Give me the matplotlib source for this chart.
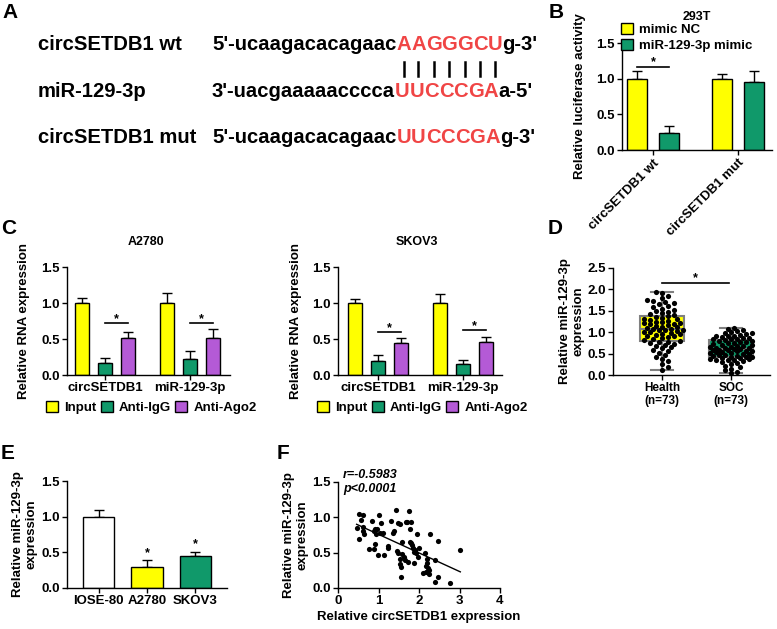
import numpy as np
import matplotlib
matplotlib.use('Agg')
import matplotlib.pyplot as plt

plt.rcParams['font.family'] = ['Liberation Sans', 'DejaVu Sans']
plt.rcParams['font.weight'] = 'bold'
plt.rcParams['axes.labelweight'] = 'bold'

YELLOW = '#FFFF00'
GREEN = '#10996A'
PURPLE = '#B45AD6'
RED = '#F04545'
GREY = '#808080'

# ---- panel A: binding site
seq_labels = ['circSETDB1 wt', 'miR-129-3p', 'circSETDB1 mut']
seq_left = ["5'-ucaagacacagaac", "3'-uacgaaaaacccca", "5'-ucaagacacagaac"]
seq_site = ['AAGGGCU', 'UUCCCGA', 'UUCCCGA']
seq_right = ["g-3'", "a-5'", "g-3'"]

# ---- panel B: luciferase
b_groups = ['circSETDB1 wt', 'circSETDB1 mut']
b_series = ['mimic NC', 'miR-129-3p mimic']
b_mean = [[1.00, 0.24], [1.00, 0.96]]
b_err = [[0.11, 0.09], [0.07, 0.15]]

# ---- panel C: RIP
c_groups = ['circSETDB1', 'miR-129-3p']
c_series = ['Input', 'Anti-IgG', 'Anti-Ago2']
c_a2780_mean = [[1.00, 0.16, 0.51], [1.00, 0.22, 0.52]]
c_a2780_err = [[0.07, 0.07, 0.09], [0.14, 0.12, 0.12]]
c_skov3_mean = [[1.00, 0.20, 0.44], [1.00, 0.15, 0.46]]
c_skov3_err = [[0.06, 0.08, 0.07], [0.12, 0.06, 0.07]]
c_sig_a2780 = [0.72, 0.72]
c_sig_skov3 = [0.60, 0.63]

# ---- panel D: tissue expression
d_groups = ['Health\n(n=73)', 'SOC\n(n=73)']
health = [0.12, 0.18, 0.25, 0.32, 0.38, 0.42, 0.47, 0.52, 0.55, 0.58, 0.62, 0.65,
          0.68, 0.70, 0.73, 0.75, 0.77, 0.78, 0.80,
          0.82, 0.84, 0.86, 0.88, 0.90, 0.91, 0.93, 0.95, 0.96, 0.98, 1.00, 1.01,
          1.02, 1.04, 1.05, 1.06, 1.07, 1.08,
          1.10, 1.12, 1.13, 1.15, 1.17, 1.18, 1.20, 1.21, 1.22, 1.24, 1.25, 1.27,
          1.29, 1.30, 1.32, 1.34, 1.36, 1.38,
          1.40, 1.42, 1.45, 1.48, 1.50, 1.52, 1.55, 1.58, 1.62, 1.65, 1.68, 1.70,
          1.72, 1.75, 1.80, 1.85, 1.92, 1.95]
soc = [0.05, 0.08, 0.12, 0.15, 0.18, 0.22, 0.25, 0.28, 0.30, 0.32, 0.34, 0.35,
       0.36, 0.37, 0.38, 0.39, 0.40, 0.41, 0.42,
       0.43, 0.44, 0.45, 0.46, 0.47, 0.48, 0.50, 0.51, 0.52, 0.53, 0.54, 0.55,
       0.56, 0.57, 0.58, 0.59, 0.59, 0.60,
       0.61, 0.62, 0.63, 0.64, 0.65, 0.66, 0.67, 0.68, 0.70, 0.71, 0.72, 0.74,
       0.75, 0.76, 0.78, 0.79, 0.80, 0.82,
       0.83, 0.84, 0.85, 0.86, 0.87, 0.88, 0.90, 0.91, 0.92, 0.94, 0.95, 0.97,
       0.98, 1.00, 1.02, 1.05, 1.08, 1.10]

# ---- panel E: cell lines
e_cells = ['IOSE-80', 'A2780', 'SKOV3']
e_mean = [1.00, 0.30, 0.45]
e_err = [0.10, 0.09, 0.06]

# ---- panel F: correlation
f_circ = [0.51, 0.62, 0.46, 0.58, 0.51, 0.62, 0.63, 0.61, 0.83, 0.88, 0.92, 0.96,
          0.93, 1.02, 1.04, 1.07, 0.77, 0.89, 0.91, 0.99, 1.14, 1.23, 1.24, 1.32,
          1.38, 1.42, 1.48, 1.52, 1.37, 1.46, 1.49, 1.57, 1.63, 1.52, 1.52, 1.55,
          1.55, 1.65, 1.72, 1.71, 1.76, 1.80, 1.68, 1.78, 1.78, 1.80, 1.83, 1.85,
          1.89, 1.87, 1.93, 1.96, 1.99, 1.97, 1.87, 2.15, 2.20, 2.28, 2.18, 2.22,
          2.25, 2.11, 2.18, 2.24, 2.40, 2.48, 2.48, 2.40, 2.76, 3.02, 2.20, 1.59,
          1.10]
f_mir = [1.05, 1.03, 0.85, 0.96, 0.70, 0.87, 0.77, 0.80, 0.95, 0.81, 0.84, 0.83,
         0.77, 1.04, 0.78, 0.92, 0.55, 0.55, 0.62, 0.47, 0.47, 0.59, 0.57, 0.95,
         0.80, 1.10, 0.92, 0.91, 0.78, 0.53, 0.50, 0.48, 0.44, 0.41, 0.34, 0.30,
         0.16, 0.39, 0.37, 0.94, 1.09, 0.94, 0.94, 0.84, 0.65, 0.63, 0.61, 0.56,
         0.54, 0.51, 0.49, 0.77, 0.56, 0.44, 0.35, 0.50, 0.41, 0.76, 0.31, 0.29,
         0.25, 0.21, 0.22, 0.20, 0.39, 0.67, 0.16, 0.08, 0.07, 0.54, 0.35, 0.65,
         0.78]

W, H = 777, 629
fig = plt.figure(figsize=(W / 100, H / 100), dpi=100)


def fx(x):
    return x / W


def fy(y):
    return 1 - y / H


def px_axes(left, top, right, bottom):
    return fig.add_axes([left / W, 1 - bottom / H, (right - left) / W, (bottom - top) / H])


def prism(ax, ylim, yticks):
    for s in ['top', 'right']:
        ax.spines[s].set_visible(False)
    for s in ['left', 'bottom']:
        ax.spines[s].set_linewidth(1.0)
    ax.tick_params(direction='out', length=3.5, width=1.0, labelsize=9.5, pad=1.5)
    ax.set_ylim(*ylim)
    ax.set_yticks(yticks)
    ax.set_yticklabels([f'{t:.1f}' for t in yticks])


def up_bars(ax, x, mean, err, color, width):
    ax.bar(x, mean, width, color=color, edgecolor='black', linewidth=1.0, zorder=2)
    ax.errorbar(x, mean, yerr=[np.zeros(len(mean)), err], fmt='none', ecolor='black',
                elinewidth=1.0, capsize=3.5, capthick=1.0, zorder=1)


def sig(ax, x0, x1, y):
    ax.plot([x0, x1], [y, y], color='black', lw=1.2, clip_on=False)
    ax.annotate('*', ((x0 + x1) / 2, y), xytext=(0, -1.5), textcoords='offset points',
                ha='center', va='bottom', fontsize=9)


def ylab(x, y, s):
    fig.text(fx(x), fy(y), s, rotation=90, ha='center', va='center', fontsize=9.5,
             fontweight='bold', linespacing=1.15, multialignment='center')


def letter(x, y, s):
    fig.text(fx(x), fy(y), s, fontsize=15, fontweight='bold', ha='left', va='top')


def legend_box(c):
    return plt.Rectangle((0, 0), 1, 1, fc=c, ec='black', lw=1.0)


# ================= A =================
letter(2, 3, 'A')
rend = fig.canvas.get_renderer()
baselines = [50, 97, 143]
fs_a = 14.6
site_centers = []
for i, lab in enumerate(seq_labels):
    yb = baselines[i]
    fig.text(fx(38), fy(yb), lab, fontsize=fs_a, fontweight='bold', va='baseline')
    x = 212
    t = fig.text(fx(x), fy(yb), seq_left[i], fontsize=fs_a, fontweight='bold', va='baseline')
    x += t.get_window_extent(renderer=rend).width
    for ch in seq_site[i]:
        t = fig.text(fx(x), fy(yb), ch, fontsize=fs_a, fontweight='bold', va='baseline', color=RED)
        w = t.get_window_extent(renderer=rend).width
        if i == 0:
            site_centers.append(x + w / 2)
        x += w
    fig.text(fx(x), fy(yb), seq_right[i], fontsize=fs_a, fontweight='bold', va='baseline')
for xc in site_centers:
    fig.add_artist(plt.Line2D([fx(xc), fx(xc)], [fy(62), fy(76)], color='black', lw=1.8))

# ================= B =================
letter(549, 3, 'B')
axB = px_axes(622, 43, 772, 150)
prism(axB, (0, 1.5), [0, 0.5, 1.0, 1.5])
xg = np.arange(len(b_groups))
bm = np.array(b_mean)
be = np.array(b_err)
for j, col in enumerate([YELLOW, GREEN]):
    up_bars(axB, xg + (j - 0.5) * 0.376, bm[:, j], be[:, j], col, 0.235)
axB.set_xlim(-0.365, 1.4)
axB.set_xticks(xg)
axB.set_xticklabels(b_groups, rotation=45, ha='right', rotation_mode='anchor', fontsize=9.5)
sig(axB, -0.188, 0.188, 1.17)
axB.legend([legend_box(c) for c in [YELLOW, GREEN]], b_series, loc='upper left',
           bbox_to_anchor=(fx(621), fy(23)), bbox_transform=fig.transFigure,
           frameon=False, fontsize=9.5, handlelength=0.9, handleheight=0.9,
           labelspacing=0.2, borderpad=0, handletextpad=0.5, borderaxespad=0)
fig.text(fx(697), fy(17), '293T', ha='center', va='center', fontsize=9, fontweight='bold')
ylab(580, 96, 'Relative luciferase activity')

# ================= C =================
letter(1, 219, 'C')
c_sets = [('A2780', 67, 230, 105, c_a2780_mean, c_a2780_err, c_sig_a2780, 24),
          ('SKOV3', 338, 502, 378, c_skov3_mean, c_skov3_err, c_sig_skov3, 296)]
for title, left, right, g0, mean, err, sigy, ylx in c_sets:
    ax = px_axes(left, 267, right, 375)
    prism(ax, (0, 1.5), [0, 0.5, 1.0, 1.5])
    m = np.array(mean)
    e = np.array(err)
    xg = np.arange(len(c_groups))
    for j, col in enumerate([YELLOW, GREEN, PURPLE]):
        up_bars(ax, xg + (j - 1) * 0.275, m[:, j], e[:, j], col, 0.165)
    ax.set_xlim((left - g0) / 85.0, (right - g0) / 85.0)
    ax.set_xticks(xg)
    ax.set_xticklabels(c_groups, fontsize=9.5)
    for k in range(len(c_groups)):
        sig(ax, k, k + 0.275, sigy[k])
    fig.text(fx((left + right) / 2 - 3), fy(242), title, ha='center', va='center',
             fontsize=9, fontweight='bold')
    ax.legend([legend_box(c) for c in [YELLOW, GREEN, PURPLE]], c_series,
              loc='upper left', ncol=3,
              bbox_to_anchor=(fx(left - 21), fy(401)), bbox_transform=fig.transFigure,
              frameon=False, fontsize=9.5, handlelength=0.9, handleheight=0.9,
              columnspacing=0.35, handletextpad=0.45, borderpad=0, borderaxespad=0)
    ylab(ylx, 321, 'Relative RNA expression')


# ================= D =================
def swarm(vals, dot, step, half, ypx, xpx):
    # beeswarm kept inside +-half px: take the first free slot, else the least crowded one
    vals = np.asarray(vals, float)
    order = np.argsort(vals)
    placed = []
    offs = np.zeros(len(vals))
    cands = [0.0]
    k = 1
    while k * step <= half:
        cands += [k * step, -k * step]
        k += 1
    for i in order:
        yp = vals[i] * ypx
        best, best_d = 0.0, -1.0
        for c in cands:
            d = min([np.hypot(c - px, yp - py) for px, py in placed] or [99.0])
            if d >= dot:
                best = c
                break
            if d > best_d:
                best, best_d = c, d
        placed.append((best, yp))
        offs[i] = best / xpx
    return offs


letter(548, 219, 'D')
axD = px_axes(613, 268, 770, 375)
prism(axD, (0, 2.5), [0, 0.5, 1.0, 1.5, 2.0, 2.5])
bp = axD.boxplot([health, soc], positions=[0, 1], widths=0.65, whis=(0, 100),
                 patch_artist=True, showfliers=False, capwidths=0.33,
                 boxprops=dict(edgecolor=GREY, linewidth=1.5),
                 medianprops=dict(color=GREY, linewidth=1.5),
                 whiskerprops=dict(color=GREY, linewidth=1.5),
                 capprops=dict(color=GREY, linewidth=1.5))
for patch, col in zip(bp['boxes'], [YELLOW, GREEN]):
    patch.set_facecolor(col)
for k, vals in enumerate([health, soc]):
    off = swarm(vals, 4.3, 3.0, 21.0, 43.0, 69.0)
    axD.scatter(k + off, vals, s=14, color='black', zorder=3, linewidths=0)
axD.set_xlim(-0.71, 1.565)
axD.set_xticks([0, 1])
axD.set_xticklabels(d_groups, fontsize=8.5, linespacing=1.1)
sig(axD, 0, 0.97, 2.16)
ylab(572, 321, 'Relative miR-129-3p\nexpression')

# ================= E =================
letter(1, 444, 'E')
axE = px_axes(67, 481, 227, 588)
prism(axE, (0, 1.5), [0, 0.5, 1.0, 1.5])
xe = np.arange(len(e_cells))
for k, col in enumerate(['white', YELLOW, GREEN]):
    up_bars(axE, [xe[k]], [e_mean[k]], [e_err[k]], col, 0.64)
for k in [1, 2]:
    axE.annotate('*', (xe[k], e_mean[k] + e_err[k]), xytext=(0, 1), textcoords='offset points',
                 ha='center', va='bottom', fontsize=9)
axE.set_xlim(-0.65, 2.65)
axE.set_xticks(xe)
axE.set_xticklabels(e_cells, fontsize=9.5)
ylab(25, 534, 'Relative miR-129-3p\nexpression')

# ================= F =================
letter(277, 444, 'F')
axF = px_axes(338, 482, 500, 588)
prism(axF, (0, 1.5), [0, 0.5, 1.0, 1.5])
axF.scatter(f_circ, f_mir, s=14, color='black', linewidths=0, zorder=3, clip_on=False)
slope, icpt = np.polyfit(f_circ, f_mir, 1)
xl = np.array([min(f_circ), max(f_circ)])
axF.plot(xl, slope * xl + icpt, color='black', lw=1.0)
axF.set_xlim(0, 4)
axF.set_xticks([0, 1, 2, 3, 4])
axF.set_xlabel('Relative circSETDB1 expression', fontsize=9.5, labelpad=3)
fig.text(fx(343), fy(475), 'r=-0.5983', fontsize=9, fontweight='bold', style='italic', va='center')
fig.text(fx(343), fy(489), 'p<0.0001', fontsize=9, fontweight='bold', style='italic', va='center')
ylab(296, 535, 'Relative miR-129-3p\nexpression')

fig.savefig('out.png', dpi=100)
